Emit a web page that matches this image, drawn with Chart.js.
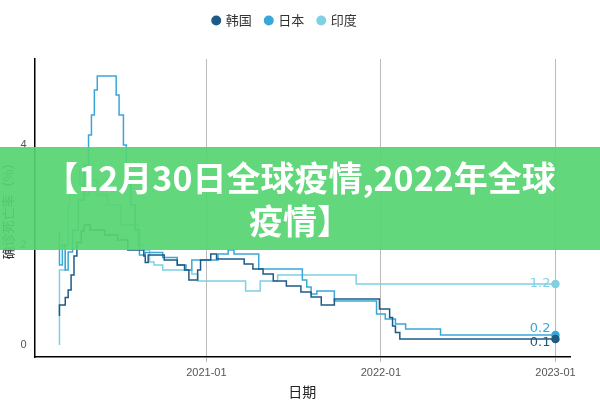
<!DOCTYPE html>
<html><head><meta charset="utf-8">
<script src="https://cdn.jsdelivr.net/npm/chart.js@4"></script>
<style>
body{margin:0;background:#fff;font-family:"Noto Sans CJK SC","Noto Sans",sans-serif}
#w{position:relative;width:600px;height:400px}
#banner{position:absolute;left:0;top:147px;width:600px;height:103px;background:rgba(86,212,112,0.92);color:#fff;font-weight:bold;font-size:34px;line-height:43px;text-align:center;box-sizing:border-box;font-family:"Noto Sans CJK SC";padding-top:8px}
#banner div{width:545px;margin:0 auto;word-break:break-all}
</style></head><body>
<div id="w"><canvas id="c" width="600" height="400"></canvas>
<div id="banner"><div>【12月30日全球疫情,2022年全球疫情】</div></div></div>
<script>
// x = months since 2020-01-01
const seriesNames=['韩国','日本','印度'];
const korea=[[1.9,0.58],[2.3,0.8],[2.5,0.95],[2.7,1.1],[2.9,1.4],[3.1,1.78],[3.4,2.05],[3.6,2.28],[4.0,2.4],[5.0,2.3],[5.9,2.2],[6.6,2.1],[7.7,1.9],[7.8,1.78],[8.0,1.65],[9.1,1.8],[10.0,1.7],[10.5,1.6],[10.8,1.5],[11.4,1.3],[11.6,1.5],[12.3,1.7],[12.7,1.82],[14.6,1.72],[15.2,1.62],[15.9,1.52],[16.6,1.42],[17.5,1.28],[18.5,1.18],[19.2,1.06],[19.9,0.96],[20.8,0.8],[23.9,0.92],[24.6,0.72],[24.8,0.55],[25.0,0.38],[25.3,0.25],[25.7,0.12],[36.0,0.12]];
const japan=[[1.9,2.28],[2.1,1.6],[2.3,2.0],[2.5,1.5],[2.8,1.86],[3.2,2.3],[3.6,2.9],[3.9,3.6],[4.1,4.2],[4.3,4.6],[4.5,5.1],[4.7,5.38],[5.8,5.38],[6.0,5.0],[6.3,4.6],[6.5,4.0],[6.8,3.3],[7.1,2.8],[7.4,2.3],[7.8,1.8],[9.0,1.85],[10.0,1.75],[10.6,1.6],[11.0,1.5],[12.8,1.7],[13.5,1.82],[13.9,1.9],[15.6,1.82],[18.6,1.52],[18.9,1.3],[19.2,1.16],[19.6,1.02],[20.8,1.08],[23.7,0.88],[24.3,0.62],[25.0,0.52],[25.7,0.42],[28.1,0.32],[30.4,0.2],[36.0,0.2]];
const india=[[1.9,0],[2.3,1.5],[2.5,2.0],[2.6,2.8],[2.7,3.58],[3.3,3.58],[3.6,3.2],[3.9,3.0],[4.5,3.3],[5.2,3.0],[6.1,2.8],[7.3,2.4],[7.7,2.0],[8.1,1.9],[8.4,1.66],[9.0,1.6],[11.0,1.5],[11.4,1.42],[14.7,1.28],[15.7,1.08],[16.9,1.28],[22.3,1.4],[24.0,1.22],[36.0,1.22]];
const endLabels=['0.1','0.2','1.2'];
const tickPos=[12,24,36], tickLabels=['2021-01','2022-01','2023-01'];
const colors=['#1f5a87','#3aa6d8','#7fd0e3'];
const mk=(arr,i)=>({label:seriesNames[i],data:arr.map(p=>({x:p[0],y:p[1]})),borderColor:colors[i],backgroundColor:colors[i],borderWidth:1.5,stepped:'after',pointRadius:arr.map((p,k)=>k===arr.length-1?3.5:0),pointStyle:'circle',endLabel:endLabels[i]});
const endPlugin={id:'ends',afterDatasetsDraw(ch){const c=ch.ctx;const off=[4,-6,0];ch.data.datasets.forEach((d,i)=>{const p=ch.getDatasetMeta(i).data;const last=p[p.length-1];c.save();c.fillStyle=colors[i];c.font='13px "DejaVu Sans"';c.textAlign='right';c.textBaseline='middle';c.fillText(d.endLabel,last.x-5,last.y+off[i]);c.restore();});}};
const legendSpace={id:'legendSpace',beforeInit(ch){const orig=ch.legend.fit;ch.legend.fit=function(){orig.bind(ch.legend)();this.height+=22;};}};
new Chart(document.getElementById('c'),{type:'line',data:{datasets:[mk(korea,0),mk(japan,1),mk(india,2)]},
options:{responsive:false,animation:false,layout:{padding:{right:30,top:0,left:0,bottom:0}},
plugins:{legend:{position:'top',labels:{usePointStyle:true,pointStyle:'circle',boxWidth:6,boxHeight:6,color:'#333',font:{size:13,family:'"Noto Sans CJK SC"'},padding:14}},tooltip:{enabled:false}},
scales:{x:{type:'linear',min:0.2,max:37,afterBuildTicks:a=>{a.ticks=tickPos.map(v=>({value:v}))},ticks:{callback:v=>tickLabels[tickPos.indexOf(v)],color:'#555',font:{size:11},maxRotation:0,padding:4},grid:{color:'#bbb',drawTicks:true,tickLength:5},border:{color:'#000',width:1.5},title:{display:true,text:'日期',color:'#222',font:{size:14,family:'"Noto Sans CJK SC"'},padding:{top:0,bottom:0}}},
y:{min:-0.24,max:5.72,afterBuildTicks:a=>{a.ticks=[0,2,4].map(v=>({value:v}))},ticks:{color:'#555',font:{size:11}},grid:{display:false,drawTicks:true,tickLength:5},border:{color:'#000',width:1.5},title:{display:true,text:'确诊死亡率（%）',color:'#333',font:{size:13,family:'"Noto Sans CJK SC"'},padding:{top:0,bottom:2}}}}},plugins:[endPlugin,legendSpace]});
</script></body></html>
